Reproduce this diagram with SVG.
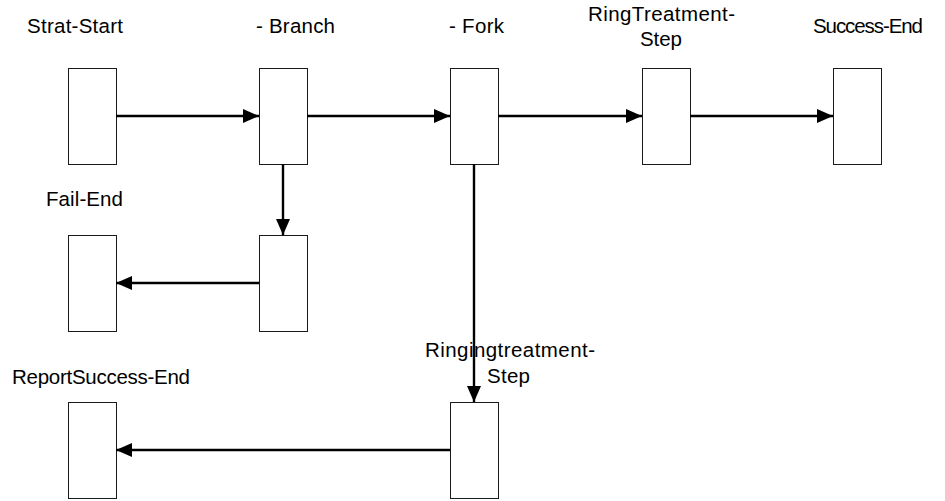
<svg xmlns="http://www.w3.org/2000/svg" width="945" height="501" viewBox="0 0 945 501">
<style>
.box{fill:#fff;stroke:#1a1a1a;stroke-width:1}
.lbl{font-family:"Liberation Sans",Arial,sans-serif;font-size:20.5px;fill:#000}
.edge{fill:none;stroke:#000;stroke-width:2.4}
</style>
<defs>
<marker id="arr" markerUnits="userSpaceOnUse" markerWidth="17" markerHeight="15" refX="16" refY="7" orient="auto">
<path d="M0,0 L16,7 L0,14 z" fill="#000"/>
</marker>
</defs>
<rect width="945" height="501" fill="#fff"/>
<g id="strat-start">
<rect class="box" x="68.5" y="68.5" width="48" height="96"/>
<text class="lbl" x="27" y="33" textLength="96" lengthAdjust="spacing">Strat-Start</text>
</g>
<g id="branch">
<rect class="box" x="259.5" y="68.5" width="48" height="96"/>
<text class="lbl" x="256" y="33" textLength="79" lengthAdjust="spacing">- Branch</text>
</g>
<g id="fork">
<rect class="box" x="450.5" y="68.5" width="48" height="96"/>
<text class="lbl" x="449" y="33" textLength="55" lengthAdjust="spacing">- Fork</text>
</g>
<g id="ringtreatment-step">
<rect class="box" x="642.5" y="68.5" width="48" height="96"/>
<text class="lbl" x="588" y="21" textLength="147" lengthAdjust="spacing">RingTreatment-</text>
<text class="lbl" x="640" y="46" textLength="42" lengthAdjust="spacing">Step</text>
</g>
<g id="success-end">
<rect class="box" x="833.5" y="68.5" width="48" height="96"/>
<text class="lbl" x="813" y="33" textLength="110" lengthAdjust="spacing">Success-End</text>
</g>
<g id="fail-step">
<rect class="box" x="259.5" y="235.5" width="48" height="96"/>
</g>
<g id="fail-end">
<rect class="box" x="68.5" y="235.5" width="48" height="96"/>
<text class="lbl" x="46" y="206" textLength="77" lengthAdjust="spacing">Fail-End</text>
</g>
<g id="ringingtreatment-step">
<rect class="box" x="450.5" y="402.5" width="48" height="96"/>
<text class="lbl" x="425" y="357" textLength="170" lengthAdjust="spacing">Ringingtreatment-</text>
<text class="lbl" x="487" y="383" textLength="43" lengthAdjust="spacing">Step</text>
</g>
<g id="reportsuccess-end">
<rect class="box" x="68.5" y="402.5" width="48" height="96"/>
<text class="lbl" x="12" y="384" textLength="178" lengthAdjust="spacing">ReportSuccess-End</text>
</g>
<g id="connectors">
<line class="edge" x1="116" y1="116" x2="259" y2="116" marker-end="url(#arr)"/>
<line class="edge" x1="307" y1="116" x2="450" y2="116" marker-end="url(#arr)"/>
<line class="edge" x1="498" y1="116" x2="642" y2="116" marker-end="url(#arr)"/>
<line class="edge" x1="690" y1="116" x2="833" y2="116" marker-end="url(#arr)"/>
<line class="edge" x1="283" y1="164" x2="283" y2="235" marker-end="url(#arr)"/>
<line class="edge" x1="259" y1="283" x2="116" y2="283" marker-end="url(#arr)"/>
<line class="edge" x1="474" y1="164" x2="474" y2="402" marker-end="url(#arr)"/>
<line class="edge" x1="450" y1="450" x2="116" y2="450" marker-end="url(#arr)"/>
</g>
</svg>
